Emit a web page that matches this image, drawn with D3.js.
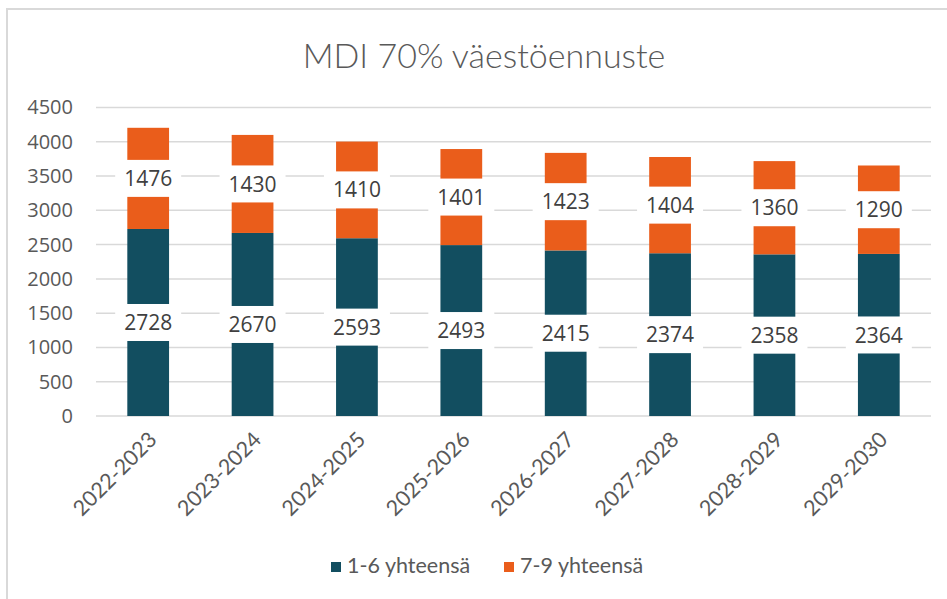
<!DOCTYPE html>
<html>
<head>
<meta charset="utf-8">
<script src="https://cdn.jsdelivr.net/npm/d3@7"></script>
<style>
	body { margin: 0; background: #fff; }
	svg { display: block; }
</style>
</head>
<body>
<div id="chart"></div>
<script>
var years = ["2022-2023", "2023-2024", "2024-2025", "2025-2026", "2026-2027", "2027-2028", "2028-2029", "2029-2030"];
var grades16 = [2728, 2670, 2593, 2493, 2415, 2374, 2358, 2364];
var grades79 = [1476, 1430, 1410, 1401, 1423, 1404, 1360, 1290];
var seriesNames = ["1-6 yhteensä", "7-9 yhteensä"];
var seriesColors = ["#124e60", "#ea5d1b"];
var yTicks = [0, 500, 1000, 1500, 2000, 2500, 3000, 3500, 4000, 4500];

var width = 947,
		height = 599;

var svg = d3.select("#chart")
	.append("svg")
		.attr("width", width)
		.attr("height", height);

svg.append("rect")
	.attr("width", width)
	.attr("height", height)
	.attr("fill", "#fff");

// chart frame (only top and left edges are visible in the screenshot)
svg.append("path")
	.attr("d", "M7,599V9H947")
	.attr("fill", "none")
	.attr("stroke", "#d9d9d9")
	.attr("stroke-width", 2);

svg.append("text")
	.attr("x", 484)
	.attr("y", 68)
	.attr("text-anchor", "middle")
	.attr("font-family", "Lato")
	.attr("font-weight", 300)
	.attr("font-size", 34)
	.attr("fill", "#595959")
	.text("MDI 70% väestöennuste");

var x = d3.scaleBand()
		.domain(years)
		.range([96, 931])
		.paddingInner(0.6)
		.paddingOuter(0.3);

var y = d3.scaleLinear()
		.domain([0, 4500])
		.range([416, 107.5]);

// gridlines
svg.append("g")
	.selectAll("line")
	.data(yTicks)
	.join("line")
		.attr("x1", 96)
		.attr("x2", 931)
		.attr("y1", function(d) { return y(d); })
		.attr("y2", function(d) { return y(d); })
		.attr("stroke", "#d9d9d9")
		.attr("stroke-width", 1.5);

var yAxis = d3.axisLeft(y)
		.tickValues(yTicks)
		.tickFormat(d3.format("d"))
		.tickSize(0)
		.tickPadding(0);

svg.append("g")
		.attr("transform", "translate(73,0)")
		.call(yAxis)
		.call(function(g) { g.select(".domain").remove(); })
	.selectAll("text")
		.attr("font-family", "Open Sans")
		.attr("font-size", 20)
		.attr("fill", "#595959");

var rows = years.map(function(year, i) {
	return { year: year, a: grades16[i], b: grades79[i] };
});
var stacked = d3.stack().keys(["a", "b"])(rows);

var layers = svg.append("g")
	.selectAll("g")
	.data(stacked)
	.join("g")
		.attr("fill", function(d, i) { return seriesColors[i]; });

layers.selectAll("rect")
	.data(function(d) { return d; })
	.join("rect")
		.attr("x", function(d) { return x(d.data.year); })
		.attr("width", x.bandwidth())
		.attr("y", function(d) { return y(d[1]); })
		.attr("height", function(d) { return y(d[0]) - y(d[1]); });

// data labels with white boxes
var labels = svg.append("g")
	.selectAll("g")
	.data(stacked.flatMap(function(layer) {
		return layer.map(function(d) { return { year: d.data.year, lo: d[0], hi: d[1] }; });
	}))
	.join("g")
		.attr("transform", function(d) {
			return "translate(" + (x(d.year) + x.bandwidth() / 2) + "," + y((d.lo + d.hi) / 2) + ")";
		});

labels.append("rect")
	.attr("x", -33)
	.attr("y", -18.5)
	.attr("width", 66)
	.attr("height", 37)
	.attr("fill", "#fff");

labels.append("text")
	.attr("text-anchor", "middle")
	.attr("dy", "0.36em")
	.attr("font-family", "Open Sans")
	.attr("font-size", 21)
	.attr("fill", "#404040")
	.text(function(d) { return d.hi - d.lo; });

// category labels
svg.append("g")
	.selectAll("text")
	.data(years)
	.join("text")
		.attr("transform", function(d) {
			return "translate(" + (x(d) + x.bandwidth() / 2 + 10) + ",441) rotate(-45)";
		})
		.attr("text-anchor", "end")
		.attr("font-family", "Lato")
		.attr("font-size", 21.5)
		.attr("fill", "#595959")
		.text(function(d) { return d; });

// legend
var legendX = [331, 504];
var legend = svg.append("g")
	.selectAll("g")
	.data(seriesNames)
	.join("g")
		.attr("transform", function(d, i) { return "translate(" + legendX[i] + ",562)"; });

legend.append("rect")
	.attr("width", 10)
	.attr("height", 10)
	.attr("fill", function(d, i) { return seriesColors[i]; });

legend.append("text")
	.attr("x", 16)
	.attr("y", 11)
	.attr("font-family", "Lato")
	.attr("font-size", 21.5)
	.attr("fill", "#595959")
	.text(function(d) { return d; });
</script>
</body>
</html>
